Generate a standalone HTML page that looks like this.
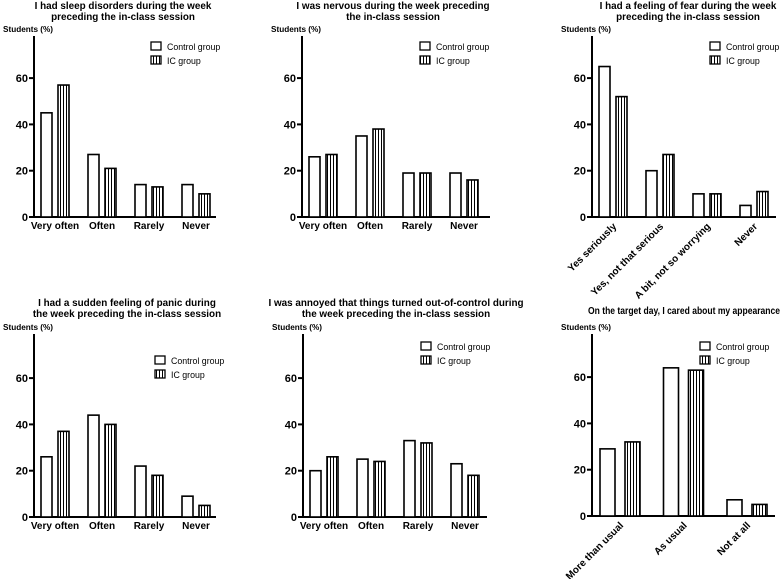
<!DOCTYPE html>
<html><head><meta charset="utf-8"><style>
body{margin:0;background:#fff;}
svg{display:block;font-family:"Liberation Sans",Arial,sans-serif;}
.t{font-weight:bold;font-size:9.9px;}
.tk{font-weight:bold;font-size:11px;}
.cat{font-weight:bold;font-size:10px;}
.lg{font-size:8.8px;}
.yl{font-weight:bold;font-size:8.2px;}
</style></head><body>
<svg id="chart" width="781" height="579">
<defs><pattern id="stripes" patternUnits="userSpaceOnUse" width="3" height="4"><rect width="3" height="4" fill="#fff"/><rect x="0" width="1" height="4" fill="#000"/></pattern></defs>
</svg>
<script>
const cats4 = ["Very often","Often","Rarely","Never"];
const cats3fear = ["Yes seriously","Yes, not that serious","A bit, not so worrying","Never"];
const cats6 = ["More than usual","As usual","Not at all"];
const p1Control = [45,27,14,14], p1IC = [57,21,13,10];
const p2Control = [26,35,19,19], p2IC = [27,38,19,16];
const p3Control = [65,20,10,5],  p3IC = [52,27,10,11];
const p4Control = [26,44,22,9],  p4IC = [37,40,18,5];
const p5Control = [20,25,33,23], p5IC = [26,24,32,18];
const p6Control = [29,64,7],     p6IC = [32,63,5];
const yTicks = [0,20,40,60];

const svg = document.getElementById('chart');
const NS = 'http://www.w3.org/2000/svg';
function mk(tag, attrs, parent){const e=document.createElementNS(NS,tag);for(const k in attrs)e.setAttribute(k,attrs[k]);(parent||svg).appendChild(e);return e;}

function panel(cfg){
  const g = mk('g',{});
  
  
  const yScale = v => cfg.y0 - v*2.315;
  cfg.title.forEach((line,i)=>{
    const t = mk('text',{x:cfg.tx,y:cfg.ty+i*11,'text-anchor':'middle',class:'t'},g);
    if(cfg.tlen){ t.setAttribute('textLength', cfg.tlen); t.setAttribute('lengthAdjust','spacingAndGlyphs'); }
    t.textContent=line;
    
    
  });
  const yl = mk('text',{x:cfg.ax-31,y:cfg.top-4,class:'yl'},g);
  yl.textContent='Students (%)';
  
  
  mk('line',{x1:cfg.ax,y1:cfg.top,x2:cfg.ax,y2:cfg.y0+1,stroke:'#000','stroke-width':2},g);
  mk('line',{x1:cfg.ax-1,y1:cfg.y0,x2:cfg.xEnd,y2:cfg.y0,stroke:'#000','stroke-width':2},g);
  yTicks.forEach(v=>{
    const y=yScale(v);
    mk('line',{x1:cfg.ax-5,y1:y,x2:cfg.ax,y2:y,stroke:'#000','stroke-width':2},g);
    const t=mk('text',{x:cfg.ax-6,y:y+4,'text-anchor':'end',class:'tk'},g);
    t.textContent=v;
    
    
  });
  cfg.cats.forEach((c,i)=>{
    const x0 = cfg.ax + cfg.off + i*cfg.sp;
    [[cfg.c,'#fff','control'],[cfg.ic,'url(#stripes)','ic']].forEach(([arr,fill,nm],j)=>{
      const x = x0 + j*cfg.gap;
      const y = yScale(arr[i]);
      const r = mk('rect',{x:x,y:y,width:cfg.bw,height:cfg.y0-y,fill:fill,stroke:'#000','stroke-width':1.6},g);
      
      
    });
    const cx = x0 + (cfg.gap+cfg.bw)/2;
    let t;
    if(cfg.rot){
      t=mk('text',{x:cx+4,y:cfg.y0+10,'text-anchor':'end',class:'cat',transform:`rotate(-45 ${cx+4} ${cfg.y0+10})`},g);
    } else {
      t=mk('text',{x:cx,y:cfg.y0+12,'text-anchor':'middle',class:'cat'},g);
    }
    t.textContent=c;
    
    
  });
  [['Control group','#fff'],['IC group','url(#stripes)']].forEach(([lab,fill],k)=>{
    const y = cfg.ly + k*14;
    const r=mk('rect',{x:cfg.lx,y:y-8,width:10,height:8,fill:fill,stroke:'#000','stroke-width':1.3},g);
    
    
    const t=mk('text',{x:cfg.lx+16,y:y,class:'lg'},g);
    t.textContent=lab;
    
    
  });
}
const top4={off:7,sp:47,bw:11,gap:17};
panel(Object.assign({name:'panel-sleep',title:['I had sleep disorders during the week','preceding the in-class session'],tx:123,ty:9,ax:34,top:36,y0:217,xEnd:216,cats:cats4,c:p1Control,ic:p1IC,lx:151,ly:50},top4));
panel(Object.assign({name:'panel-nervous',title:['I was nervous during the week preceding','the in-class session'],tx:393,ty:9,ax:302,top:36,y0:217,xEnd:490,cats:cats4,c:p2Control,ic:p2IC,lx:420,ly:50},top4));
panel(Object.assign({name:'panel-fear',title:['I had a feeling of fear during the week','preceding the in-class session'],tx:688,ty:9,ax:592,top:36,y0:217,xEnd:776,cats:cats3fear,c:p3Control,ic:p3IC,lx:710,ly:50,rot:true},top4));
panel(Object.assign({name:'panel-panic',title:['I had a sudden feeling of panic during','the week preceding the in-class session'],tx:127,ty:306,ax:34,top:334,y0:517,xEnd:216,cats:cats4,c:p4Control,ic:p4IC,lx:155,ly:364},top4));
panel(Object.assign({name:'panel-annoyed',title:['I was annoyed that things turned out-of-control during','the week preceding the in-class session'],tx:396,ty:306,ax:303,top:334,y0:517,xEnd:487,cats:cats4,c:p5Control,ic:p5IC,lx:421,ly:350},top4));
panel({name:'panel-appearance',title:['On the target day, I cared about my appearance'],tx:684,ty:314,tlen:192,ax:592,top:334,y0:516,xEnd:775,cats:cats6,c:p6Control,ic:p6IC,off:8,sp:63.5,bw:15,gap:25,lx:700,ly:350,rot:true});
</script>
</body></html>
